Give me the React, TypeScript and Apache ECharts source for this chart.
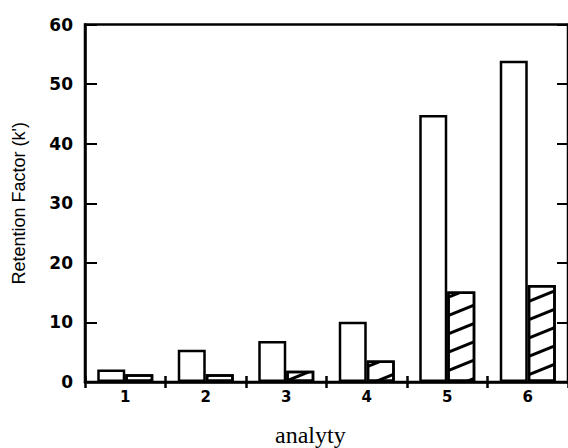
import React, { useEffect, useRef } from "react";
import * as echarts from "echarts";

const categories = ["1", "2", "3", "4", "5", "6"];
const openValues = [2.1, 5.4, 6.9, 10.1, 44.8, 53.9];
const hatchedValues = [1.3, 1.3, 1.9, 3.6, 15.2, 16.3];
const yTicks = { min: 0, max: 60, interval: 10 };
const yName = "Retention Factor (k')";
const xName = "analyty";

export default function App() {
  const ref = useRef<HTMLDivElement>(null);
  useEffect(() => {
    if (!ref.current) return;
    const chart = echarts.init(ref.current, null, { renderer: "svg" });
    const axisLine = { show: true, lineStyle: { color: "#000", width: 2.5 } };
    chart.setOption({
      animation: false,
      backgroundColor: "#fff",
      grid: {
        left: 85,
        top: 24.5,
        width: 486,
        height: 357.5,
        show: true,
        borderColor: "#000",
        borderWidth: 2.5,
        backgroundColor: "transparent",
      },
      xAxis: [
        {
          type: "category",
          data: categories,
          position: "bottom",
          axisLine,
          axisTick: { show: true, inside: false, length: 6, lineStyle: { color: "#000", width: 2.5 } },
          axisLabel: {
            color: "#000",
            fontFamily: "DejaVu Sans",
            fontWeight: "bold",
            fontSize: 15,
            margin: 7,
          },
          splitLine: { show: false },
        },
        {
          type: "category",
          data: categories,
          position: "bottom",
          axisLine: { show: false },
          axisTick: { show: true, inside: true, length: 6, lineStyle: { color: "#000", width: 2.5 } },
          axisLabel: { show: false },
          splitLine: { show: false },
        },
      ],
      yAxis: [
        {
          type: "value",
          min: yTicks.min,
          max: yTicks.max,
          interval: yTicks.interval,
          position: "left",
          axisLine,
          axisTick: { show: true, inside: true, length: 12, lineStyle: { color: "#000", width: 2 } },
          axisLabel: {
            color: "#000",
            fontFamily: "DejaVu Sans",
            fontWeight: "bold",
            fontSize: 17,
            margin: 12,
          },
          splitLine: { show: false },
          name: yName,
          nameLocation: "middle",
          nameRotate: 90,
          nameGap: 57,
          nameTextStyle: {
            color: "#000",
            fontFamily: "Liberation Sans",
            fontSize: 18,
          },
        },
        {
          type: "value",
          min: yTicks.min,
          max: yTicks.max,
          interval: yTicks.interval,
          position: "right",
          axisLine,
          axisTick: { show: true, inside: true, length: 11, lineStyle: { color: "#000", width: 2 } },
          axisLabel: { show: false },
          splitLine: { show: false },
        },
      ],
      series: [
        {
          type: "bar",
          data: openValues,
          barWidth: 28,
          barGap: "0%",
          itemStyle: { color: "#fff", borderColor: "#000", borderWidth: 2.5 },
        },
        {
          type: "bar",
          data: hatchedValues,
          barWidth: 28,
          barGap: "0%",
          itemStyle: {
            color: "#fff",
            borderColor: "#000",
            borderWidth: 2.5,
            decal: {
              symbol: "rect",
              symbolSize: 1,
              color: "#000",
              backgroundColor: "#fff",
              dashArrayX: [1, 0],
              dashArrayY: [2.5, 14],
              rotation: (-22 * Math.PI) / 180,
            },
          },
        },
      ],
      graphic: [
        {
          type: "text",
          x: 275,
          y: 447,
          style: {
            text: xName,
            fill: "#000",
            font: "24px 'Liberation Serif', serif",
            textAlign: "left",
            textVerticalAlign: "bottom",
          },
        },
      ],
    });
    return () => chart.dispose();
  }, []);
  return (
    <div
      ref={ref}
      style={{ position: "fixed", left: 0, top: 0, width: 568, height: 448, background: "#fff" }}
    />
  );
}
